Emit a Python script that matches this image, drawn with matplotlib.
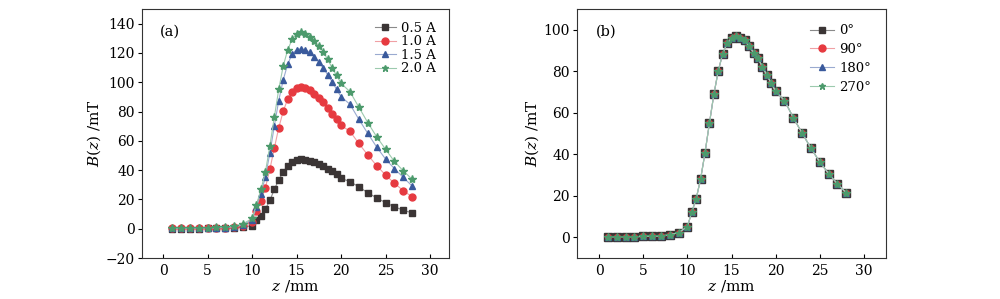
import matplotlib
matplotlib.use("Agg")
import matplotlib.pyplot as plt

plt.rcParams['font.family'] = ['DejaVu Serif']
plt.rcParams['mathtext.fontset'] = 'dejavuserif'
plt.rcParams['font.size'] = 10

# positions along the axis (mm)
z = [1, 2, 3, 4, 5, 6, 7, 8, 9, 10, 10.5, 11, 11.5, 12, 12.5, 13, 13.5, 14, 14.5, 15,
     15.5, 16, 16.5, 17, 17.5, 18, 18.5, 19, 19.5, 20, 21, 22, 23, 24, 25, 26, 27, 28]

# (a) field for different currents (mT)
b_05 = [0.1, 0.1, 0.1, 0.1, 0.2, 0.2, 0.3, 0.5, 1.0, 2.2, 5.7, 8.6, 13.4, 19.3, 26.8, 33.4,
        38.7, 43.0, 45.5, 46.9, 47.3, 47.0, 46.2, 45.3, 44.1, 42.5, 41.0, 39.4, 37.5, 34.4,
        32.2, 28.6, 24.6, 21.1, 17.8, 15.0, 12.6, 10.8]
b_10 = [0.2, 0.2, 0.3, 0.3, 0.3, 0.4, 0.6, 1.0, 2.2, 4.8, 11.8, 18.6, 28.0, 40.5, 54.9, 68.9,
        80.1, 88.4, 93.4, 95.8, 96.8, 96.2, 94.8, 92.2, 89.2, 86.4, 82.7, 78.6, 74.6, 70.6,
        66.5, 58.2, 50.4, 43.1, 36.7, 31.0, 26.0, 21.7]
b_15 = [0.3, 0.3, 0.4, 0.4, 0.5, 0.6, 0.8, 1.4, 2.8, 6.0, 15.0, 23.9, 35.5, 51.4, 70.0, 87.4,
        101.5, 112.2, 119.2, 122.2, 122.9, 122.2, 120.4, 117.4, 113.8, 109.7, 105.1, 100.3,
        95.1, 90.1, 85.0, 74.7, 65.1, 55.8, 47.6, 41.0, 35.0, 29.1]
b_20 = [0.6, 0.6, 0.7, 0.7, 0.8, 0.9, 1.2, 1.9, 3.4, 7.0, 16.4, 26.8, 38.7, 56.4, 76.0, 95.1,
        111.0, 122.0, 129.2, 133.1, 134.0, 133.1, 131.0, 128.3, 124.7, 120.8, 115.6, 109.7,
        104.7, 99.2, 93.6, 83.0, 72.5, 62.8, 54.3, 45.9, 39.5, 33.7]

# (b) field for different orientations (mT) - the four curves coincide
b_0 = [0.3, 0.3, 0.3, 0.3, 0.4, 0.5, 0.7, 1.1, 2.3, 5.0, 12.2, 18.6, 28.1, 40.7, 55.0, 68.8,
       80.2, 88.4, 93.4, 95.8, 96.8, 96.1, 94.9, 92.0, 89.0, 86.2, 82.2, 78.1, 74.3, 70.3,
       65.9, 57.6, 50.2, 42.9, 36.3, 30.7, 25.7, 21.4]
b_90 = list(b_0)
b_180 = list(b_0)
b_270 = list(b_0)

labels_a = ['0.5 A', '1.0 A', '1.5 A', '2.0 A']
labels_b = ['0°', '90°', '180°', '270°']

# marker, marker colour, line colour, size in (a), size in (b)
styles = [('s', '#3b3535', '#8a8a8a', 4.2, 6.2),
          ('o', '#e63a40', '#f0a0a4', 5.0, 4.2),
          ('^', '#3a5a9c', '#9aaad0', 5.0, 4.2),
          ('*', '#4c9a6c', '#9ccaae', 6.0, 6.0)]

fig = plt.figure(figsize=(10, 2.99), dpi=100)
ax1 = fig.add_axes([0.1417, 0.137, 0.307, 0.833])
ax2 = fig.add_axes([0.577, 0.137, 0.309, 0.833])

for ys, lab, (m, mc, lc, ms, _) in zip([b_05, b_10, b_15, b_20], labels_a, styles):
    ax1.plot(z, ys, color=lc, lw=0.8, marker=m, ms=ms, mfc=mc, mec=mc, label=lab)

for ys, lab, (m, mc, lc, _, ms) in zip([b_0, b_90, b_180, b_270], labels_b, styles):
    ax2.plot(z, ys, color=lc, lw=0.8, marker=m, ms=ms, mfc=mc, mec=mc, label=lab)

ax1.set_xlim(-2.4, 32.1)
ax1.set_ylim(-20, 150)
ax1.set_yticks([-20, 0, 20, 40, 60, 80, 100, 120, 140])
ax1.set_yticklabels(['\u221220', '0', '20', '40', '60', '80', '100', '120', '140'])
ax2.set_xlim(-2.5, 32.5)
ax2.set_ylim(-10, 110)
ax2.set_yticks([0, 20, 40, 60, 80, 100])

for ax, tag in [(ax1, '(a)'), (ax2, '(b)')]:
    ax.set_xticks([0, 5, 10, 15, 20, 25, 30])
    ax.tick_params(axis='x', direction='in', length=3, width=0.8, pad=4)
    ax.tick_params(axis='y', direction='out', length=3, width=0.8, pad=2)
    for s in ax.spines.values():
        s.set_linewidth(0.8)
        s.set_color('#333333')
    ax.set_xlabel(r'$z$ /mm', fontsize=11, labelpad=0)
    ax.set_ylabel(r'$B(z)$ /mT', fontsize=11, labelpad=2)
    ax.text(0.06, 0.907, tag, transform=ax.transAxes, fontsize=10.5, va='center', ha='left')

leg1 = ax1.legend(loc='upper right', frameon=False, fontsize=9.5, labelspacing=0.05,
                  handlelength=1.6, handletextpad=0.4, borderaxespad=0.55)
leg2 = ax2.legend(loc='upper right', frameon=False, fontsize=9.5, labelspacing=0.45,
                  handlelength=1.8, handletextpad=0.4, borderaxespad=0.75)
for leg in (leg1, leg2):
    for h in leg.legend_handles:
        h.set_markersize(5)

fig.savefig('out.png', dpi=100)
